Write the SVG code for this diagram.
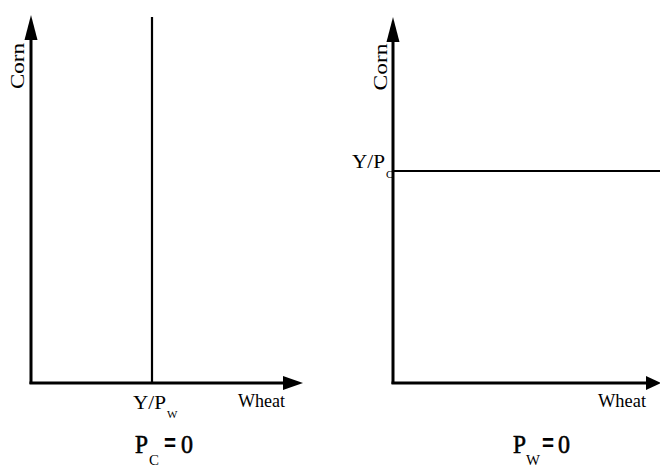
<svg xmlns="http://www.w3.org/2000/svg" width="660" height="467" viewBox="0 0 660 467">
<style>
.ax{stroke:#000;stroke-width:3;fill:none}
.ln{stroke:#000;stroke-width:2.2;fill:none}
.hd{fill:#000;stroke:none}
.lb{font-family:"Liberation Serif",serif;font-size:19px;fill:#000}
.sb{font-family:"Liberation Serif",serif;font-size:11px;fill:#000}
.big{font-family:"Liberation Serif",serif;font-size:26px;fill:#000;stroke:#000;stroke-width:0.6}
.eq{font-family:"Liberation Sans",sans-serif;font-size:24px;font-weight:bold;fill:#000}
.bsub{font-family:"Liberation Serif",serif;font-size:15px;fill:#000}
</style>
<g id="connectors">
<line class="ax" x1="31" y1="384" x2="31" y2="38"/>
<polygon class="hd" points="31,15 24.5,40 37.5,40"/>
<line class="ax" x1="29.5" y1="383" x2="285" y2="383"/>
<polygon class="hd" points="303,383 283,376 283,390"/>
<line class="ln" x1="152" y1="17" x2="152" y2="383"/>
<line class="ax" x1="393" y1="384" x2="393" y2="40"/>
<polygon class="hd" points="393,17 386.5,42 399.5,42"/>
<line class="ax" x1="391.5" y1="383" x2="650" y2="383"/>
<polygon class="hd" points="661,383 646,376 646,390"/>
<line class="ln" x1="393" y1="171" x2="660" y2="171"/>
</g>
<g id="left-corn"><text class="lb" transform="translate(24,66) rotate(-90)" text-anchor="middle" textLength="46" lengthAdjust="spacingAndGlyphs">Corn</text></g>
<g id="left-ypw"><text class="lb" x="133" y="409" textLength="33" lengthAdjust="spacingAndGlyphs">Y/P</text><text class="sb" x="167" y="418">W</text></g>
<g id="left-wheat"><text class="lb" x="238" y="407" textLength="47" lengthAdjust="spacingAndGlyphs">Wheat</text></g>
<g id="left-title"><text class="big" x="135" y="453" textLength="13" lengthAdjust="spacingAndGlyphs">P</text><text class="bsub" x="149" y="465" textLength="10" lengthAdjust="spacingAndGlyphs">C</text><text class="eq" x="164" y="451" textLength="12" lengthAdjust="spacingAndGlyphs">=</text><text class="big" x="181" y="453" textLength="12" lengthAdjust="spacingAndGlyphs">0</text></g>
<g id="right-corn"><text class="lb" transform="translate(387,67) rotate(-90)" text-anchor="middle" textLength="47" lengthAdjust="spacingAndGlyphs">Corn</text></g>
<g id="right-ypc"><text class="lb" x="352" y="168" textLength="33" lengthAdjust="spacingAndGlyphs">Y/P</text><text class="sb" x="386" y="178">C</text></g>
<g id="right-wheat"><text class="lb" x="598" y="407" textLength="48" lengthAdjust="spacingAndGlyphs">Wheat</text></g>
<g id="right-title"><text class="big" x="513" y="453" textLength="13" lengthAdjust="spacingAndGlyphs">P</text><text class="bsub" x="526" y="465" textLength="14" lengthAdjust="spacingAndGlyphs">W</text><text class="eq" x="542" y="451" textLength="12" lengthAdjust="spacingAndGlyphs">=</text><text class="big" x="558" y="453" textLength="12" lengthAdjust="spacingAndGlyphs">0</text></g>
</svg>
